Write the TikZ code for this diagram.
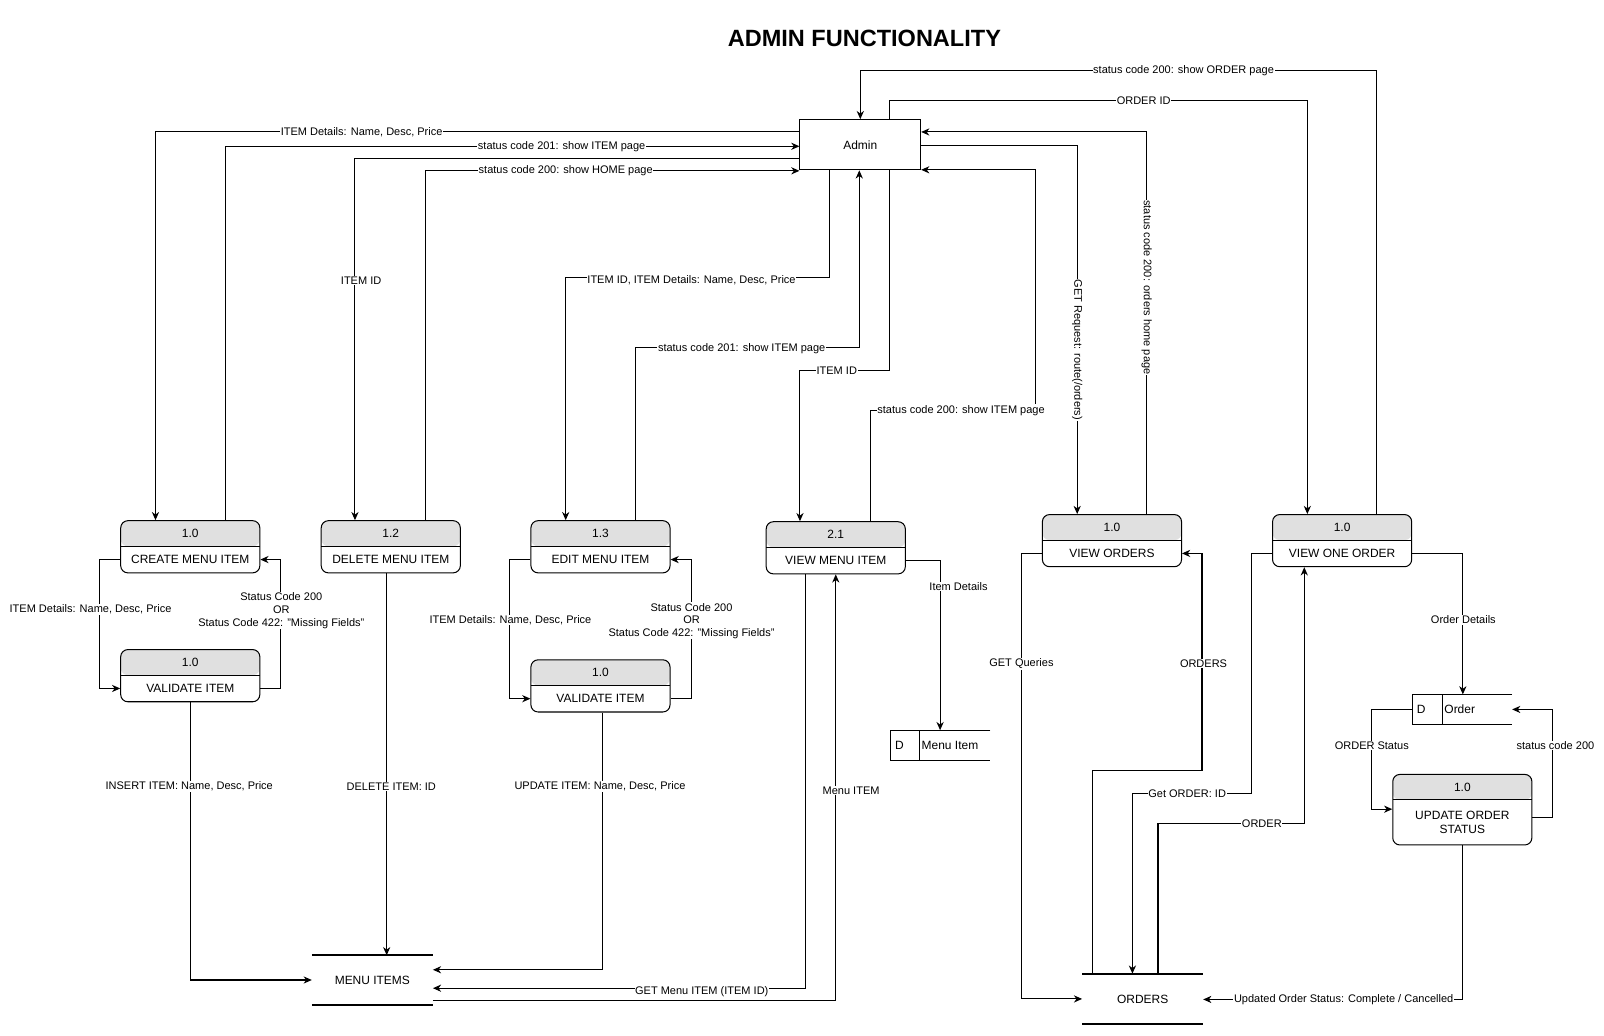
\documentclass[tikz,border=0pt]{standalone}
\usepackage{fontspec}
\setmainfont{Liberation Sans}
\usetikzlibrary{arrows.meta,calc}
\definecolor{hdr}{RGB}{224,224,224}
\newcommand\procnode[6][51]{%
  \node[proc, minimum height=#1pt] (#2) at (#3, #4+#1/2) {};
  \node[ptext] (#2n) at (#3, #4+12.5) {#5};
  \node[ptext] (#2t) at (#3, #4+12.5+#1/2) {#6};
}
\begin{document}
\begin{tikzpicture}[x=1pt,y=-1pt,
  proc/.style={draw, line width=1pt, rounded corners=7pt, minimum width=136pt, inner sep=0pt,
    path picture={\fill[hdr] (path picture bounding box.north west) rectangle ([yshift=-25pt]path picture bounding box.north east);
      \draw[line width=1pt] ([yshift=-25pt]path picture bounding box.north west) -- ([yshift=-25pt]path picture bounding box.north east);}},
  ptext/.style={font=\fontsize{11.7}{13.5}\selectfont, inner sep=0pt, align=center},
  flow/.style={draw, line width=1pt, -{Stealth[length=8pt,width=7pt,inset=2.5pt]}},
  plain/.style={draw, line width=1pt},
  lbl/.style={fill=white, inner sep=0.6pt, align=center, font=\fontsize{10.75}{12.5}\selectfont},
]
\fill[white] (0,0) rectangle (1568,1012);
\useasboundingbox (0,0) rectangle (1568,1012);

\node[font=\fontsize{23}{26}\selectfont\bfseries] (title) at (845,38) {ADMIN FUNCTIONALITY};

% Admin
\node[draw, line width=1pt, minimum width=118pt, minimum height=49pt, inner sep=0pt, ptext] (admin) at (841,141.5) {Admin};

% processes
\procnode{p1}{186}{509}{1.0}{CREATE MENU ITEM}
\procnode{p2}{382}{509}{1.2}{DELETE MENU ITEM}
\procnode{p3}{587}{509}{1.3}{EDIT MENU ITEM}
\procnode{p4}{817}{510}{2.1}{VIEW MENU ITEM}
\procnode{p5}{1087}{503}{1.0}{VIEW ORDERS}
\procnode{p6}{1312}{503}{1.0}{VIEW ONE ORDER}
\procnode{v1}{186}{635}{1.0}{VALIDATE ITEM}
\procnode{v2}{587}{645}{1.0}{VALIDATE ITEM}
\procnode[69]{u}{1429.5}{757}{1.0}{UPDATE ORDER\\STATUS}

% data stores
\node[minimum width=118pt, minimum height=48pt, inner sep=0pt, ptext] (mi) at (364,958) {MENU ITEMS};
\draw[line width=1.8pt] (mi.north west) -- (mi.north east) (mi.south west) -- (mi.south east);
\node[minimum width=118pt, minimum height=49pt, inner sep=0pt, ptext] (ord) at (1117,976.5) {ORDERS};
\draw[line width=1.8pt] (ord.north west) -- (ord.north east) (ord.south west) -- (ord.south east);

\node[minimum width=97pt, minimum height=29pt, inner sep=0pt] (dmi) at (919.5,728.5) {};
\draw[plain] (dmi.north east) -- (dmi.north west) -- (dmi.south west) -- (dmi.south east);
\draw[plain] ([xshift=28pt]dmi.north west) -- ([xshift=28pt]dmi.south west);
\node[ptext, anchor=west] (dmiD) at ([xshift=4pt]dmi.west) {D};
\node[ptext, anchor=west] (dmiT) at ([xshift=30pt]dmi.west) {Menu Item};

\node[minimum width=97pt, minimum height=29pt, inner sep=0pt] (dord) at (1429.5,693.5) {};
\draw[plain] (dord.north east) -- (dord.north west) -- (dord.south west) -- (dord.south east);
\draw[plain] ([xshift=29pt]dord.north west) -- ([xshift=29pt]dord.south west);
\node[ptext, anchor=west] (dordD) at ([xshift=4pt]dord.west) {D};
\node[ptext, anchor=west] (dordT) at ([xshift=31pt]dord.west) {Order};

% connectors: admin <-> processes
\draw[flow] (admin.west |- 0,129) -| (p1.north -| 152,0);
\draw[flow] (p1.north -| 220,0) |- (admin.west |- 0,143);
\draw[flow] (admin.west |- 0,155) -| (p2.north -| 347,0);
\draw[flow] (p2.north -| 416,0) |- (admin.west |- 0,167);
\draw[flow] (admin.south -| 811,0) |- (553,271) -- (p3.north -| 553,0);
\draw[flow] (p3.north -| 621,0) |- (840,340) -- (admin.south -| 840,0);
\draw[flow] (admin.south -| 870,0) |- (782,362) -- (p4.north -| 782,0);
\draw[flow] (p4.north -| 851,0) |- (1012,401) |- (admin.east |- 0,166);
\draw[flow] (admin.east |- 0,142) -| (p5.north -| 1053,0);
\draw[flow] (p5.north -| 1121,0) |- (admin.east |- 0,129);
\draw[flow] (admin.north -| 870,0) |- (1278,98) -- (p6.north -| 1278,0);
\draw[flow] (p6.north -| 1346,0) |- (841,69) -- (admin.north -| 841,0);

% menu side
\draw[flow] (p1.west |- p1t) -- ++(-20,0) |- (v1.west |- v1t);
\draw[flow] (v1.east |- v1t) -- ++(20,0) |- (p1.east |- p1t);
\draw[flow] (v1.south) |- (mi.west);
\draw[flow] (p2.south -| 378,0) -- (mi.north -| 378,0);
\draw[flow] (p3.west |- p3t) -- ++(-20,0) |- (v2.west |- v2t);
\draw[flow] (v2.east |- v2t) -- ++(20,0) |- (p3.east |- p3t);
\draw[flow] (v2.south -| 589,0) |- (mi.east |- 0,948);
\draw[flow] (p4.south -| 787,0) |- (mi.east |- 0,966);
\draw[flow] (mi.east |- 0,978) -| (p4.south -| 817,0);
\draw[flow] (p4.east |- p4t) -| (dmi.north -| 919,0);

% order side
\draw[flow] (p5.west |- p5t) -- ++(-20,0) |- (ord.west);
\draw[flow] (ord.north -| 1068,0) |- (1175,753) |- (p5.east |- p5t);
\draw[flow] (p6.west |- p6t) -- ++(-20,0) |- (1107,776) -- (ord.north -| 1107,0);
\draw[flow] (ord.north -| 1132,0) |- (1275,805) -- (p6.south -| 1275,0);
\draw[flow] (p6.east |- p6t) -| (dord.north -| 1430,0);
\draw[flow] (dord.west) -- ++(-40,0) |- (u.west |- 0,791);
\draw[flow] (u.east |- 0,799) -- ++(20,0) |- (dord.east);
\draw[flow] (u.south) |- (ord.east |- 0,977);

% labels
\node[lbl] (l1) at (353.5,129) {ITEM Details: Name, Desc, Price};
\node[lbl] (l2) at (549,143) {status code 201: show ITEM page};
\node[lbl] (l3) at (353,274) {ITEM ID};
\node[lbl] (l4) at (553,167) {status code 200: show HOME page};
\node[lbl] (l5) at (676,274) {ITEM ID, ITEM Details: Name, Desc, Price};
\node[lbl] (l6) at (725,341) {status code 201: show ITEM page};
\node[lbl] (l7) at (818,362) {ITEM ID};
\node[lbl] (l8) at (939.5,401) {status code 200: show ITEM page};
\node[lbl, rotate=-90] (l9) at (1053,342) {GET Request: route(/orders)};
\node[lbl, rotate=-90] (l10) at (1121,281) {status code 200: orders home page};
\node[lbl] (l11) at (1118,98) {ORDER ID};
\node[lbl] (l12) at (1157,69) {status code 200: show ORDER page};
\node[lbl] (l13) at (88.5,596) {ITEM Details: Name, Desc, Price};
\node[lbl] (l14) at (275,597) {Status Code 200\\OR\\Status Code 422: "Missing Fields"};
\node[lbl] (l15) at (185,769) {INSERT ITEM: Name, Desc, Price};
\node[lbl] (l16) at (382.5,769) {DELETE ITEM: ID};
\node[lbl] (l17) at (499,606) {ITEM Details: Name, Desc, Price};
\node[lbl] (l18) at (676,607) {Status Code 200\\OR\\Status Code 422: "Missing Fields"};
\node[lbl] (l19) at (586.5,769) {UPDATE ITEM: Name, Desc, Price};
\node[lbl] (l20) at (686,969) {GET Menu ITEM (ITEM ID)};
\node[lbl] (l21) at (832,773) {Menu ITEM};
\node[lbl] (l22) at (937,573) {Item Details};
\node[lbl] (l23) at (998.5,649) {GET Queries};
\node[lbl] (l24) at (1176.5,649) {ORDERS};
\node[lbl] (l25) at (1160.5,776) {Get ORDER: ID};
\node[lbl] (l26) at (1233.5,805) {ORDER};
\node[lbl] (l27) at (1430.5,606) {Order Details};
\node[lbl] (l28) at (1341,729) {ORDER Status};
\node[lbl] (l29) at (1520.5,729) {status code 200};
\node[lbl] (l30) at (1313.5,977) {Updated Order Status: Complete / Cancelled};
\end{tikzpicture}
\end{document}
